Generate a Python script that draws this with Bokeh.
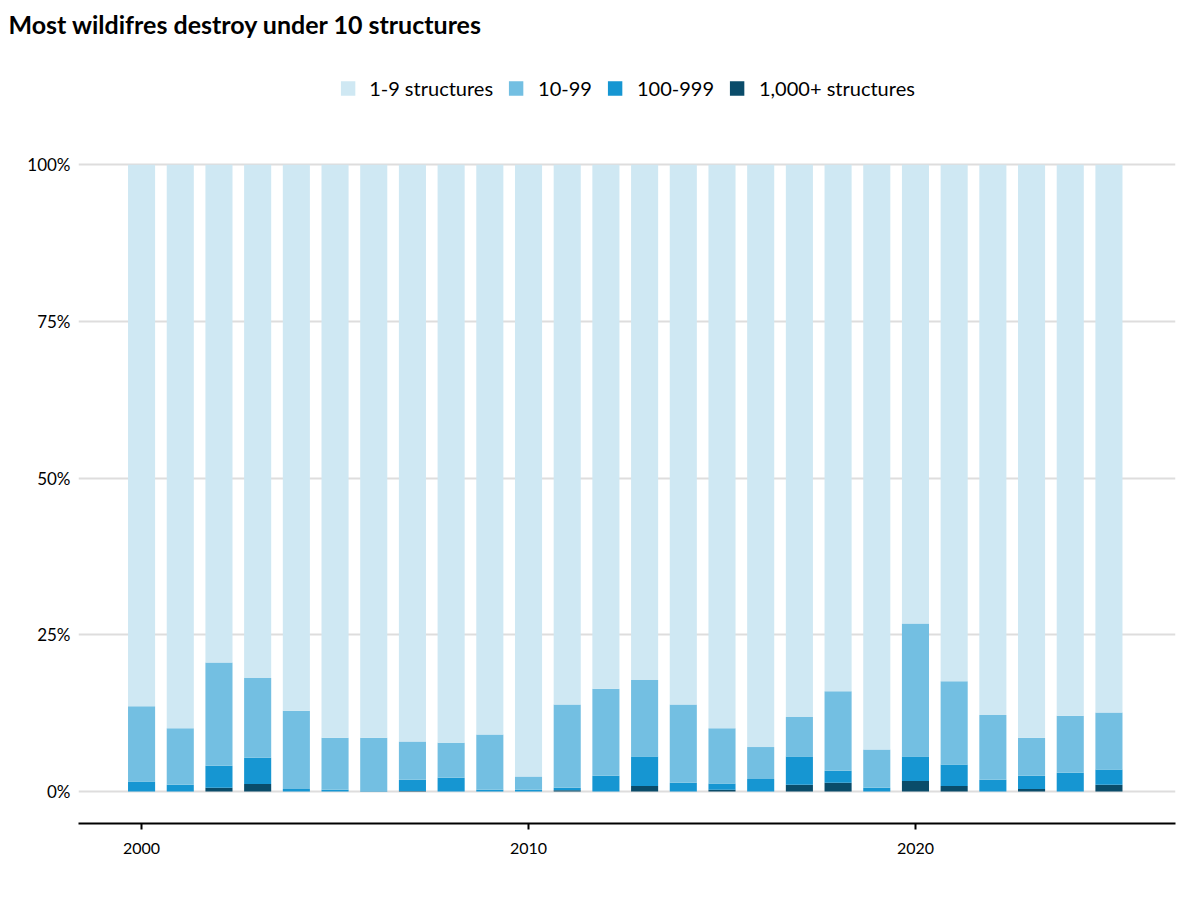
from bokeh.plotting import figure
from bokeh.models import ColumnDataSource, Legend, LegendItem, FixedTicker, PrintfTickFormatter, Range1d
from bokeh.embed import file_html
from bokeh.resources import INLINE

years = list(range(2000, 2026))
# share of fires (percent) by number of structures destroyed
s_1_9 = [86.4, 89.9, 79.4, 81.9, 87.1, 91.4, 91.4, 92.0, 92.2, 90.9,
         97.6, 86.1, 83.6, 82.2, 86.1, 89.9, 92.9, 88.1, 84.0, 93.3,
         73.2, 82.4, 87.8, 91.4, 87.9, 87.4]
s_10_99 = [12.0, 9.0, 16.5, 12.7, 12.5, 8.3, 8.5, 6.1, 5.6, 8.8,
           2.1, 13.3, 13.9, 12.2, 12.5, 8.8, 5.1, 6.3, 12.7, 6.1,
           21.2, 13.3, 10.3, 6.1, 9.1, 9.1]
s_100_999 = [1.6, 1.1, 3.5, 4.2, 0.4, 0.3, 0.1, 1.8, 2.2, 0.3,
             0.3, 0.4, 2.5, 4.7, 1.4, 1.0, 2.0, 4.5, 1.9, 0.6,
             3.9, 3.4, 1.9, 2.1, 3.0, 2.4]
s_1000 = [0.0, 0.0, 0.6, 1.2, 0.0, 0.0, 0.0, 0.1, 0.0, 0.0,
          0.0, 0.2, 0.0, 0.9, 0.0, 0.3, 0.0, 1.1, 1.4, 0.0,
          1.7, 0.9, 0.0, 0.4, 0.0, 1.1]

labels = ["1-9 structures", "10-99", "100-999", "1,000+ structures"]
colors = ["#cfe8f3", "#73bfe2", "#1696d2", "#0a4c6a"]
y_ticks = [0, 25, 50, 75, 100]
x_ticks = [2000, 2010, 2020]
title_text = "Most wildifres destroy under 10 structures"

src = ColumnDataSource(dict(year=years, a=s_1000, b=s_100_999, c=s_10_99, d=s_1_9))

p = figure(width=1192, height=888, output_backend="svg", toolbar_location=None,
           x_range=Range1d(1998.37, 2026.72), y_range=Range1d(-5.1, 119.2),
           min_border_left=78, min_border_right=17, min_border_bottom=65, min_border_top=0)
p.outline_line_color = None

renderers = p.vbar_stack(["a", "b", "c", "d"], x="year", width=0.7, source=src,
                         color=[colors[3], colors[2], colors[1], colors[0]], line_width=0)

items = [LegendItem(label=labels[0], renderers=[renderers[3]]),
         LegendItem(label=labels[1], renderers=[renderers[2]]),
         LegendItem(label=labels[2], renderers=[renderers[1]]),
         LegendItem(label=labels[3], renderers=[renderers[0]])]
legend = Legend(items=items, orientation="horizontal", location="top_center",
                glyph_width=18, glyph_height=18, label_standoff=13, spacing=14,
                padding=0, margin=32, border_line_color=None, background_fill_alpha=0,
                label_text_font="Lato", label_text_font_size="20px", label_text_color="#000000")
p.add_layout(legend, "center")

p.title.text = title_text
p.title.text_font = "Lato"
p.title.text_font_size = "25px"
p.title.text_font_style = "bold"
p.title.text_color = "#000000"
p.title.align = "left"
p.title.offset = -70
p.title.standoff = 12

p.xgrid.grid_line_color = None
p.ygrid.grid_line_color = "#dedddd"
p.ygrid.grid_line_width = 2
p.ygrid.ticker = FixedTicker(ticks=y_ticks)

p.yaxis.ticker = FixedTicker(ticks=y_ticks)
p.yaxis.formatter = PrintfTickFormatter(format="%d%%")
p.yaxis.axis_line_color = None
p.yaxis.major_tick_line_color = None
p.yaxis.minor_tick_line_color = None
p.yaxis.major_label_standoff = 2
p.yaxis.major_label_text_font = "Lato"
p.yaxis.major_label_text_font_size = "17px"
p.yaxis.major_label_text_color = "#000000"

p.xaxis.ticker = FixedTicker(ticks=x_ticks)
p.xaxis.axis_line_color = "#000000"
p.xaxis.axis_line_width = 2
p.xaxis.major_tick_line_color = "#000000"
p.xaxis.major_tick_line_width = 2
p.xaxis.major_tick_in = 0
p.xaxis.major_tick_out = 6
p.xaxis.minor_tick_line_color = None
p.xaxis.major_label_standoff = 13
p.xaxis.major_label_text_font = "Lato"
p.xaxis.major_label_text_font_size = "16px"
p.xaxis.major_label_text_color = "#000000"

open("out.html", "w").write(file_html(p, INLINE))
